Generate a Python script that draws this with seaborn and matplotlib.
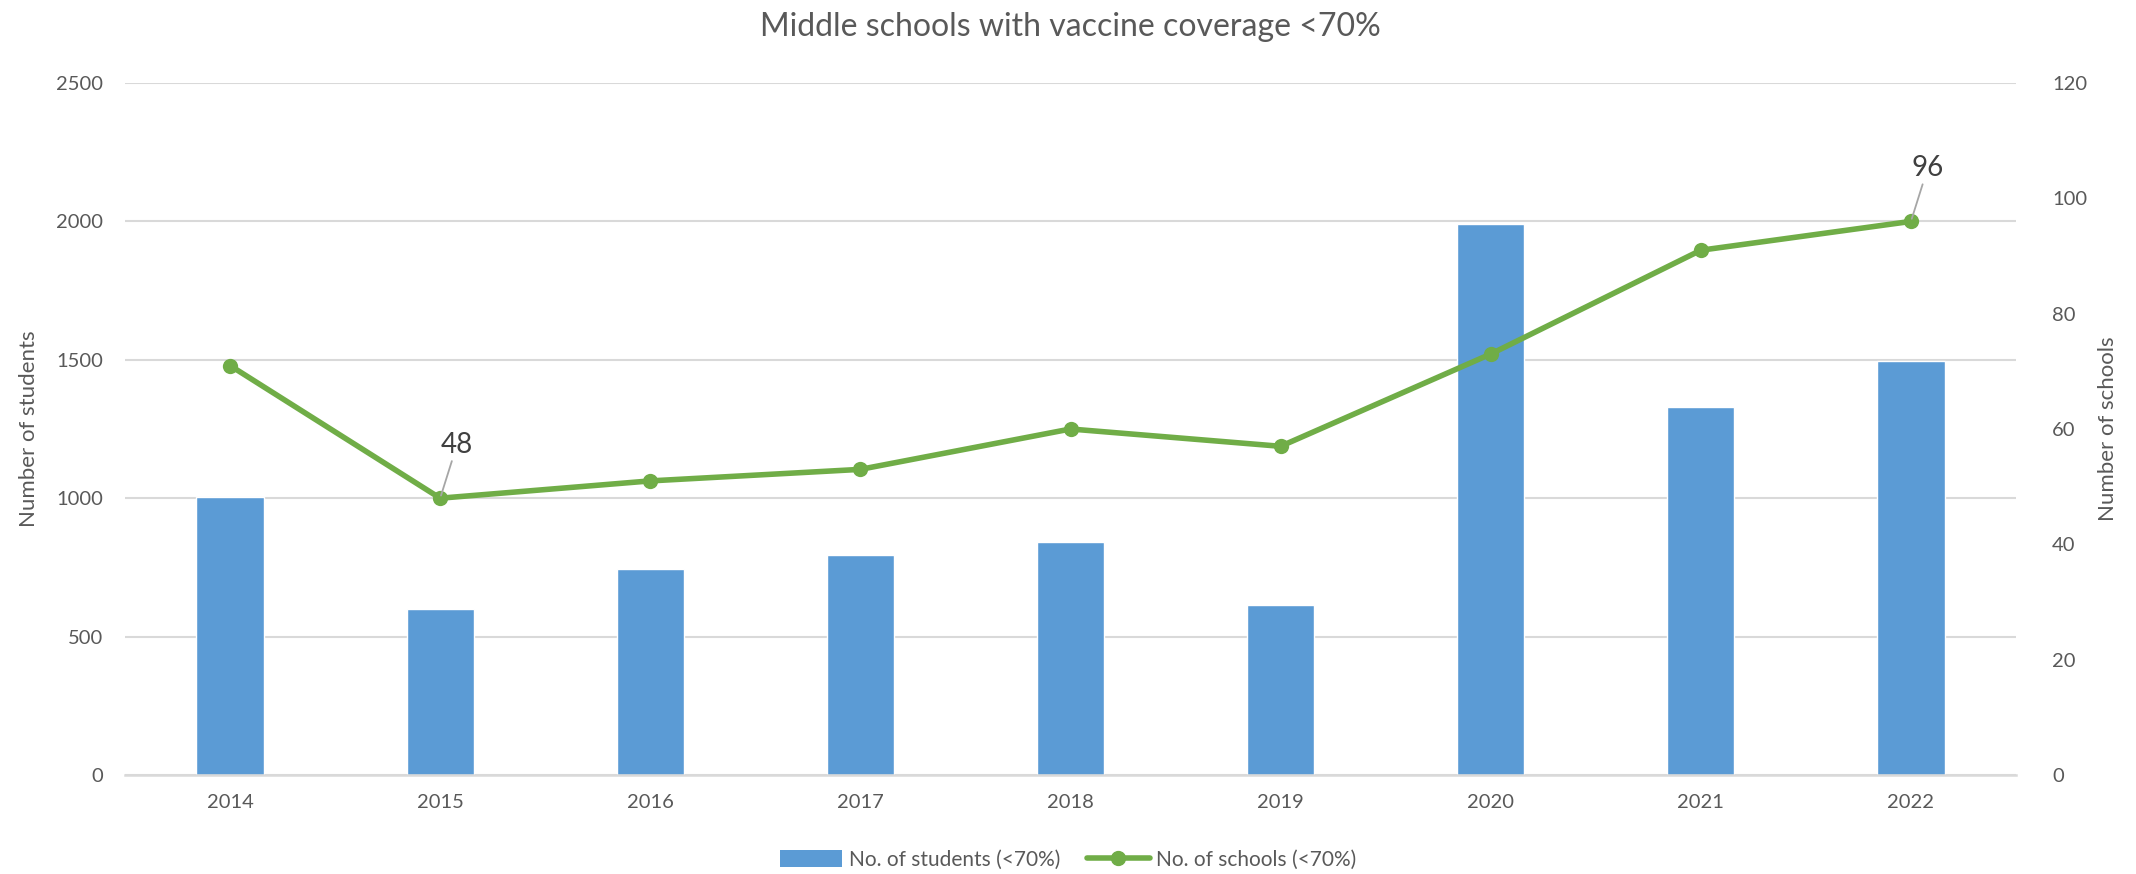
import matplotlib
matplotlib.use("Agg")
import matplotlib.pyplot as plt
import seaborn as sns
import numpy as np
import pandas as pd
from matplotlib.lines import Line2D
from matplotlib.patches import Patch

years = ["2014", "2015", "2016", "2017", "2018", "2019", "2020", "2021", "2022"]
students = [1005, 600, 745, 795, 840, 615, 1990, 1330, 1495]
schools = [71, 48, 51, 53, 60, 57, 73, 91, 96]
left_ticks = [0, 500, 1000, 1500, 2000, 2500]
right_ticks = [0, 20, 40, 60, 80, 100, 120]
labelled = {"2015": 48, "2022": 96}

sns.set_theme(style="white")
plt.rcParams["font.family"] = ["Lato", "DejaVu Sans"]
TXT = "#595959"
BAR = "#5B9BD5"
LINE = "#70AD47"
GRID = "#D9D9D9"

W, H = 2136, 874
fig = plt.figure(figsize=(W / 100, H / 100), dpi=100)
ax = fig.add_axes([125 / W, 1 - 775 / H, (2016 - 125) / W, (775 - 83) / H])

df = pd.DataFrame({"year": years, "students": students, "schools": schools})
df["pos"] = np.arange(len(years))

sns.barplot(data=df, x="year", y="students", color=BAR, width=0.32,
            saturation=1, ax=ax, zorder=2)
ax.set_ylim(0, 2500)
ax.set_yticks(left_ticks)
ax.set_xlim(-0.5, len(years) - 0.5)
ax.yaxis.grid(True, color=GRID, linewidth=1.5, zorder=0)
ax.set_axisbelow(True)
for s in ["top", "right", "left"]:
    ax.spines[s].set_visible(False)
ax.spines["bottom"].set_color(GRID)
ax.spines["bottom"].set_linewidth(1.8)
ax.tick_params(axis="both", length=0, labelsize=14.5, colors=TXT, pad=14)
ax.tick_params(axis="y", pad=16)
ax.set_xlabel("")
ax.set_ylabel("Number of students", fontsize=16, color=TXT, labelpad=12)

ax2 = ax.twinx()
sns.lineplot(data=df, x="pos", y="schools", color=LINE, linewidth=4,
             marker="o", markersize=11, markeredgewidth=0, ax=ax2, zorder=3)
ax2.set_ylim(0, 120)
ax2.set_yticks(right_ticks)
ax2.set_xlim(-0.5, len(years) - 0.5)
for s in ["top", "right", "left", "bottom"]:
    ax2.spines[s].set_visible(False)
ax2.tick_params(axis="y", length=0, labelsize=14.5, colors=TXT, pad=26)
ax2.set_ylabel("Number of schools", fontsize=16, color=TXT, labelpad=8)
ax2.set_xlabel("")

for yr, val in labelled.items():
    i = years.index(yr)
    ax2.annotate(str(val), xy=(i, val), xytext=(i + 0.08, val + 7),
                 fontsize=20, color="#404040", ha="center", va="bottom",
                 arrowprops=dict(arrowstyle="-", color="#A6A6A6", lw=1.3,
                                 shrinkA=0, shrinkB=2))

fig.text((125 + 2016) / 2 / W, 1 - 27 / H, "Middle schools with vaccine coverage <70%",
         ha="center", va="center", fontsize=23, color=TXT)

handles = [Patch(facecolor=BAR, edgecolor="none"),
           Line2D([0], [0], color=LINE, linewidth=4, marker="o", markersize=10)]
fig.legend(handles, ["No. of students (<70%)", "No. of schools (<70%)"],
           loc="center", bbox_to_anchor=(0.5, 1 - 860 / H), ncol=2, frameon=False,
           fontsize=15, labelcolor=TXT, handlelength=3.0, handleheight=0.9,
           columnspacing=1.3, handletextpad=0.3)

fig.savefig("out.png", dpi=100)
